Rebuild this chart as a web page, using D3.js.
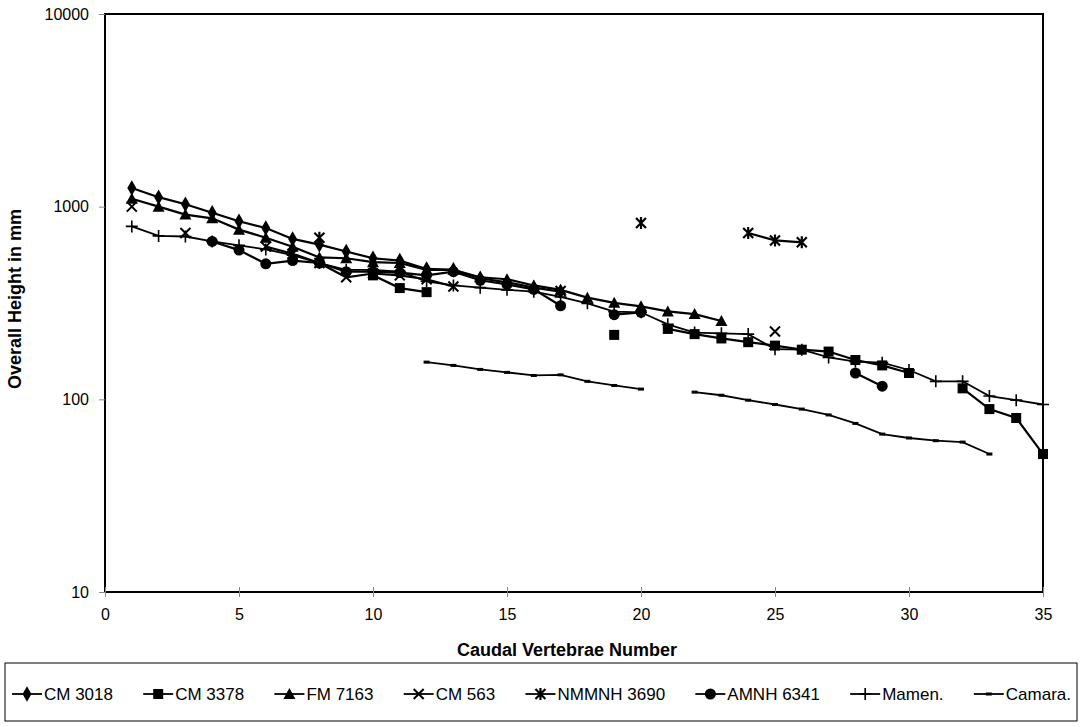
<!DOCTYPE html>
<html>
<head>
<meta charset="utf-8">
<script src="https://cdn.jsdelivr.net/npm/d3@7"></script>
<style>
  body { margin: 0; background: #fff; }
  text { font-family: Arial, "Liberation Sans", sans-serif; fill: #000; }
</style>
</head>
<body>
<svg id="chart" width="1083" height="727"></svg>
<script>
// Vertebra numbers on the x axis
const vertebrae = d3.range(1, 36)

// Series values, one entry per vertebra 1..35 (null = no measurement)
const cm3018 = [1250, 1120, 1030, 930, 840, 775, 680, 635, 585, 540, 525, 475, 470, 425, 405, 380, 362,
  null, null, null, null, null, null, null, null, null, null, null, null, null, null, null, null, null, null]
const cm3378 = [null, null, null, null, null, null, null, null, null, 440, 378, 360, null, null, null, null, null,
  null, 216, null, 232, 218, 207, 198, 190, 181, 177, 160, 150, 137, null, 114, 89, 80, 52]
const fm7163 = [1100, 1000, 910, 870, 760, 690, 620, 545, 540, 515, 510, 470, 470, 430, 420, 390, 370,
  337, 317, 304, 286, 277, 255, null, null, null, null, null, null, null, null, null, null, null, null]
const cm563 = [1000, null, 730, null, null, 620, 570, 510, 430, 450, 440, 420, 385, null, null, null, 365,
  null, null, null, null, null, null, null, 225, null, null, null, null, null, null, null, null, null, null]
const nmmnh3690 = [null, null, null, null, null, null, null, 690, null, null, null, null, null, null, null, null, null,
  null, null, 823, null, null, null, 730, 668, 653, null, null, null, null, null, null, null, null, null]
const amnh6341 = [null, null, null, 660, 595, 505, 525, 510, 460, 460, 455, 440, 460, 415, 395, 372, 306,
  null, 275, 283, null, null, null, null, null, null, null, 137, 117, null, null, null, null, null, null]
const mamen = [790, 705, 700, 660, 630, 600, 560, 510, 470, 470, 460, 410, 390, 380, 370, 362, 340,
  315, 285, 283, 245, 222, 220, 218, 182, 181, 165, 157, 155, 142, 124, 124, 104, 99, 94]
const camara = [null, null, null, null, null, null, null, null, null, null, null, 156, 150, 143, 138, 133, 134,
  124, 118, 113, null, 109, 105, 99, 94, 89, 83, 75, 66, 63, 61, 60, 52, null, null]

const seriesNames = ['CM 3018', 'CM 3378', 'FM 7163', 'CM 563', 'NMMNH 3690', 'AMNH 6341', 'Mamen.', 'Camara.']
const seriesValues = [cm3018, cm3378, fm7163, cm563, nmmnh3690, amnh6341, mamen, camara]
const seriesMarkers = ['diamond', 'square', 'triangle', 'x', 'star', 'circle', 'plus', 'dash']

const xTicks = [0, 5, 10, 15, 20, 25, 30, 35]
const yTicks = [10, 100, 1000, 10000]

const svg = d3.select('#chart')
const plotLeft = 105, plotRight = 1043, plotTop = 14, plotBottom = 592

const xScale = d3.scaleLinear().domain([0, 35]).range([plotLeft, plotRight])
const yScale = d3.scaleLog().domain([10, 10000]).range([plotBottom, plotTop])

// Plot area frame
svg.append('rect')
  .attr('x', plotLeft).attr('y', plotTop)
  .attr('width', plotRight - plotLeft).attr('height', plotBottom - plotTop)
  .attr('fill', 'none').attr('stroke', '#000').attr('stroke-width', 2)

// Y axis (log)
const yAxis = svg.append('g')
  .attr('transform', 'translate(' + plotLeft + ',0)')
  .call(d3.axisLeft(yScale).tickValues(yTicks).tickFormat(d3.format('d')).tickSize(6).tickPadding(10))
yAxis.select('.domain').remove()
yAxis.selectAll('line').attr('stroke', '#888')
yAxis.selectAll('text').style('font-size', '16px').attr('font-family', 'Arial, "Liberation Sans", sans-serif')

// X axis
const xAxis = svg.append('g')
  .attr('transform', 'translate(0,' + plotBottom + ')')
  .call(d3.axisBottom(xScale).tickValues(xTicks).tickSize(5).tickPadding(12))
xAxis.select('.domain').remove()
xAxis.selectAll('line').attr('y1', -5).attr('stroke', '#888')
xAxis.selectAll('text').style('font-size', '16px').attr('font-family', 'Arial, "Liberation Sans", sans-serif')

// Axis titles
svg.append('text')
  .attr('x', 567).attr('y', 656)
  .attr('text-anchor', 'middle')
  .style('font-size', '18px').style('font-weight', 'bold')
  .text('Caudal Vertebrae Number')

svg.append('text')
  .attr('transform', 'translate(21,299) rotate(-90)')
  .attr('text-anchor', 'middle')
  .style('font-size', '18px').style('font-weight', 'bold')
  .text('Overall Height in mm')

/**
 * Draws a marker of the given kind centered at the origin of the group g
 */
function drawMarker (g, kind) {
  if (kind === 'diamond') {
    g.append('path').attr('d', d3.symbol(d3.symbolDiamond, 70)()).attr('fill', '#000')
  } else if (kind === 'square') {
    g.append('rect').attr('x', -5).attr('y', -5).attr('width', 10).attr('height', 10).attr('fill', '#000')
  } else if (kind === 'triangle') {
    g.append('path').attr('d', 'M0,-6L6,5L-6,5Z').attr('fill', '#000')
  } else if (kind === 'circle') {
    g.append('circle').attr('r', 5.5).attr('fill', '#000')
  } else if (kind === 'x') {
    g.append('path').attr('d', 'M-5,-5L5,5M-5,5L5,-5').attr('stroke', '#000').attr('stroke-width', 2)
  } else if (kind === 'star') {
    g.append('path').attr('d', 'M-5,-5L5,5M-5,5L5,-5M0,-6L0,6').attr('stroke', '#000').attr('stroke-width', 2.2)
  } else if (kind === 'plus') {
    g.append('path').attr('d', 'M-6,0L6,0M0,-6L0,6').attr('stroke', '#000').attr('stroke-width', 1.6)
  } else if (kind === 'dash') {
    g.append('rect').attr('x', -3).attr('y', -1.5).attr('width', 6).attr('height', 3).attr('fill', '#000')
  }
}

const line = d3.line()
  .defined((d) => d.v !== null)
  .x((d) => xScale(d.n))
  .y((d) => yScale(d.v))

const plot = svg.append('g')
seriesValues.forEach((values, i) => {
  const pts = vertebrae.map((n, j) => ({ n: n, v: values[j] }))
  const lw = seriesMarkers[i] === 'dash' || seriesMarkers[i] === 'plus' ? 1.8 : 2.2
  plot.append('path')
    .datum(pts)
    .attr('fill', 'none')
    .attr('stroke', '#000')
    .attr('stroke-width', lw)
    .attr('d', line)
  plot.append('g')
    .selectAll('g')
    .data(pts.filter((d) => d.v !== null))
    .enter()
    .append('g')
    .attr('transform', (d) => 'translate(' + xScale(d.n) + ',' + yScale(d.v) + ')')
    .each(function () { drawMarker(d3.select(this), seriesMarkers[i]) })
})

// Legend
const legend = svg.append('g')
legend.append('rect')
  .attr('x', 5).attr('y', 663).attr('width', 1072).attr('height', 58)
  .attr('fill', 'none').attr('stroke', '#000').attr('stroke-width', 1)

const items = legend.selectAll('g.item')
  .data(seriesNames)
  .enter()
  .append('g').attr('class', 'item')
items.append('text')
  .attr('x', 32).attr('y', 700)
  .style('font-size', '17px')
  .text((d) => d)
const widths = []
items.each(function () { widths.push(32 + this.querySelector('text').getComputedTextLength()) })
const gap = (1071 - 12 - d3.sum(widths)) / (widths.length - 1)
let cursor = 12
items.each(function (d, i) {
  const g = d3.select(this).attr('transform', 'translate(' + cursor + ',0)')
  g.append('line').attr('x1', 0).attr('x2', 30).attr('y1', 694).attr('y2', 694)
    .attr('stroke', '#000').attr('stroke-width', 1.8)
  drawMarker(g.append('g').attr('transform', 'translate(15,694)'), seriesMarkers[i])
  cursor += widths[i] + gap
})
</script>
</body>
</html>
